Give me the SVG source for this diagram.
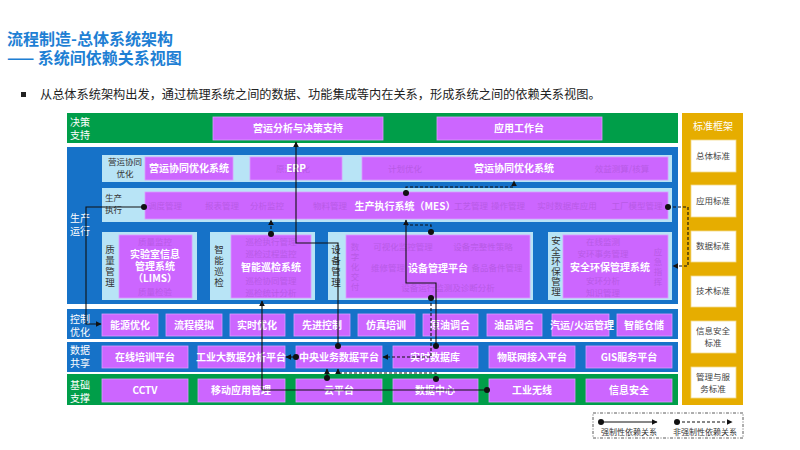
<svg xmlns="http://www.w3.org/2000/svg" width="800" height="450" viewBox="0 0 800 450">
<defs>
<style>
text{font-family:"Noto Sans CJK SC","Liberation Sans",sans-serif}
.title{fill:#1e7fd4;font-size:16px;font-weight:bold}
.lab{fill:#ffffff;font-size:10px}
.dk{fill:#333333;font-size:8.5px}
.vt{fill:#333333;font-size:9.5px;writing-mode:vertical-rl;text-orientation:upright}
.bx{fill:#cc66ff;stroke:#dd99ff;stroke-width:0.8}
.lb{fill:#b8e4f6}
.bt{fill:#ffffff;font-size:10px;font-weight:bold;text-anchor:middle}
.ft{fill:#b85ae6;font-size:8.5px;text-anchor:middle}
.fv{fill:#b85ae6;font-size:8.5px;writing-mode:vertical-rl;text-orientation:upright;letter-spacing:1.5px}
.sb{fill:#ffffff;stroke:#f3d98a;stroke-width:0.8}
.st{fill:#444444;font-size:8.5px;text-anchor:middle}
.s{fill:none;stroke:#111111;stroke-width:1.1}
.d{fill:none;stroke:#111111;stroke-width:1.1;stroke-dasharray:3,2}
</style>
<marker id="arr" viewBox="0 0 10 10" refX="9" refY="5" markerWidth="6" markerHeight="6" orient="auto" markerUnits="userSpaceOnUse"><path d="M0,0 L10,5 L0,10 z" fill="#111"/></marker>
<marker id="dot" viewBox="0 0 10 10" refX="5" refY="5" markerWidth="6" markerHeight="6" markerUnits="userSpaceOnUse"><circle cx="5" cy="5" r="5" fill="#111"/></marker>
</defs>
<rect width="800" height="450" fill="#ffffff"/>

<g id="title">
<text class="title" x="7" y="45">流程制造-总体系统架构</text>
<text class="title" x="7" y="64">—— 系统间依赖关系视图</text>
<rect x="21" y="92" width="5" height="5" fill="#222"/>
<text x="40" y="99" font-size="12.2" fill="#222">从总体系统架构出发，通过梳理系统之间的数据、功能集成等内在关系，形成系统之间的依赖关系视图。</text>
</g>

<!-- bands -->
<g id="band-decision">
<rect x="67" y="113" width="611" height="30" fill="#009e49"/>
<text class="lab" x="70" y="126">决策</text><text class="lab" x="70" y="139">支持</text>
</g>
<g id="band-production">
<rect x="67" y="147" width="611" height="157" fill="#1672c8"/>
<text class="lab" x="70" y="222">生产</text><text class="lab" x="70" y="235">运行</text>
</g>
<g id="band-control">
<rect x="67" y="309" width="611" height="30" fill="#1672c8"/>
<text class="lab" x="70" y="323">控制</text><text class="lab" x="70" y="336">优化</text>
</g>
<g id="band-data">
<rect x="67" y="342" width="611" height="30" fill="#1672c8"/>
<text class="lab" x="70" y="354">数据</text><text class="lab" x="70" y="367">共享</text>
</g>
<g id="band-base">
<rect x="67" y="374" width="611" height="31" fill="#009e49"/>
<text class="lab" x="70" y="389">基础</text><text class="lab" x="70" y="402">支撑</text>
</g>

<!-- decision -->
<g id="n-yyfx"><rect class="bx" x="213" y="117" width="170" height="23"/><text class="bt" x="298" y="132">营运分析与决策支持</text></g>
<g id="n-yygzt"><rect class="bx" x="437" y="117" width="165" height="23"/><text class="bt" x="519" y="132">应用工作台</text></g>

<!-- 营运协同 row -->
<g id="row-yyxt">
<rect class="lb" x="102" y="155" width="570" height="27"/>
<text class="dk" x="125" y="165" text-anchor="middle">营运协同</text>
<text class="dk" x="125" y="177" text-anchor="middle">优化</text>
</g>
<g id="n-yyxt1"><rect class="bx" x="145" y="157" width="88" height="23"/><text class="bt" x="189" y="172">营运协同优化系统</text></g>
<g id="n-erp"><rect class="bx" x="250" y="157" width="92" height="23"/><text class="ft" x="293" y="172">原油优化</text><text class="bt" x="296" y="172">ERP</text></g>
<g id="n-yyxt2"><rect class="bx" x="362" y="157" width="306" height="23"/>
<text class="ft" x="405" y="172">计划优化</text><text class="ft" x="622" y="172">效益测算/核算</text>
<text class="bt" x="514" y="172">营运协同优化系统</text></g>

<!-- 生产执行 row -->
<g id="row-sczx">
<rect class="lb" x="102" y="188" width="570" height="34"/>
<text class="dk" x="105" y="201">生产</text><text class="dk" x="105" y="213">执行</text>
</g>
<g id="n-mes"><rect class="bx" x="145" y="192" width="523" height="27"/>
<text class="ft" x="165" y="209">调度管理</text><text class="ft" x="222" y="209">报表管理</text><text class="ft" x="267" y="209">分析监控</text><text class="ft" x="330" y="209">物料管理</text>
<text class="ft" x="471" y="209">工艺管理</text><text class="ft" x="508" y="209">操作管理</text><text class="ft" x="567" y="209">实时数据库应用</text><text class="ft" x="637" y="209">工厂模型管理</text>
<text class="bt" x="405" y="210">生产执行系统（MES）</text></g>

<!-- bottom production row -->
<g id="n-lims">
<rect class="lb" x="102" y="232" width="95" height="68"/>
<text class="vt" x="110" y="245" letter-spacing="1.5">质量管理</text>
<rect class="bx" x="119" y="235" width="73" height="63"/>
<text class="ft" x="155" y="245">质量监控</text><text class="ft" x="155" y="295">质量检验</text>
<text class="bt" x="155" y="258">实验室信息</text><text class="bt" x="155" y="270">管理系统</text><text class="bt" x="155" y="282">（LIMS）</text>
</g>
<g id="n-znxj">
<rect class="lb" x="210" y="232" width="105" height="68"/>
<text class="vt" x="219" y="245" letter-spacing="1.5">智能巡检</text>
<rect class="bx" x="231" y="235" width="80" height="63"/>
<text class="ft" x="271" y="245">巡检执行管理</text><text class="ft" x="271" y="257">巡检过程监控</text><text class="ft" x="271" y="284">巡检协同管理</text><text class="ft" x="271" y="296">巡检统计分析</text>
<text class="bt" x="271" y="271">智能巡检系统</text>
</g>
<g id="n-sbgl">
<rect class="lb" x="328" y="232" width="205" height="68"/>
<text class="vt" x="336" y="245" letter-spacing="1.5">设备管理</text>
<rect class="bx" x="346" y="235" width="184" height="63"/>
<text class="fv" x="355" y="243">数字化交付</text>
<text class="ft" x="403" y="250">可视化监控管理</text><text class="ft" x="483" y="250">设备完整性策略</text>
<text class="ft" x="388" y="271">维修管理</text><text class="ft" x="497" y="271">备品备件管理</text>
<text class="ft" x="448" y="291">设备运行监测及诊断分析</text>
<text class="bt" x="438" y="272">设备管理平台</text>
</g>
<g id="n-aqhb">
<rect class="lb" x="548" y="232" width="124" height="68"/>
<text class="vt" x="556" y="236" letter-spacing="0.7">安全环保管理</text>
<rect class="bx" x="563" y="235" width="105" height="63"/>
<text class="ft" x="603" y="245">在线监测</text><text class="ft" x="603" y="257">安环事务管理</text><text class="ft" x="603" y="284">安环分析</text><text class="ft" x="603" y="296">知识管理</text>
<text class="fv" x="658" y="248">应急指挥</text>
<text class="bt" x="610" y="271">安全环保管理系统</text>
</g>

<!-- control row -->
<g id="n-nyyh"><rect class="bx" x="102" y="314" width="56" height="22"/><text class="bt" x="130" y="329">能源优化</text></g>
<g id="n-lcmn"><rect class="bx" x="166" y="314" width="56" height="22"/><text class="bt" x="194" y="329">流程模拟</text></g>
<g id="n-ssyh"><rect class="bx" x="230" y="314" width="55" height="22"/><text class="bt" x="257" y="329">实时优化</text></g>
<g id="n-xjkz"><rect class="bx" x="294" y="314" width="56" height="22"/><text class="bt" x="322" y="329">先进控制</text></g>
<g id="n-fzpx"><rect class="bx" x="358" y="314" width="57" height="22"/><text class="bt" x="386" y="329">仿真培训</text></g>
<g id="n-yytj"><rect class="bx" x="423" y="314" width="55" height="22"/><text class="bt" x="450" y="329">原油调合</text></g>
<g id="n-ypth"><rect class="bx" x="487" y="314" width="55" height="22"/><text class="bt" x="514" y="329">油品调合</text></g>
<g id="n-qyhy"><rect class="bx" x="552" y="314" width="57" height="22"/><text class="bt" x="582" y="329">汽运/火运管理</text></g>
<g id="n-zncc"><rect class="bx" x="617" y="314" width="55" height="22"/><text class="bt" x="644" y="329">智能仓储</text></g>

<!-- data row -->
<g id="n-zxpx"><rect class="bx" x="102" y="346" width="86" height="22"/><text class="bt" x="145" y="361">在线培训平台</text></g>
<g id="n-gydsj"><rect class="bx" x="198" y="346" width="87" height="22"/><text class="bt" x="241" y="361">工业大数据分析平台</text></g>
<g id="n-zyyw"><rect class="bx" x="296" y="346" width="86" height="22"/><text class="bt" x="339" y="361">中央业务数据平台</text></g>
<g id="n-sssjk"><rect class="bx" x="393" y="346" width="85" height="22"/><text class="bt" x="435" y="361">实时数据库</text></g>
<g id="n-wlw"><rect class="bx" x="489" y="346" width="86" height="22"/><text class="bt" x="532" y="361">物联网接入平台</text></g>
<g id="n-gis"><rect class="bx" x="586" y="346" width="86" height="22"/><text class="bt" x="629" y="361">GIS服务平台</text></g>

<!-- base row -->
<g id="n-cctv"><rect class="bx" x="102" y="379" width="86" height="23"/><text class="bt" x="145" y="394">CCTV</text></g>
<g id="n-ydyy"><rect class="bx" x="198" y="379" width="87" height="23"/><text class="bt" x="241" y="394">移动应用管理</text></g>
<g id="n-ypt"><rect class="bx" x="296" y="379" width="86" height="23"/><text class="bt" x="339" y="394">云平台</text></g>
<g id="n-sjzx"><rect class="bx" x="393" y="379" width="85" height="23"/><text class="bt" x="435" y="394">数据中心</text></g>
<g id="n-gywx"><rect class="bx" x="489" y="379" width="86" height="23"/><text class="bt" x="532" y="394">工业无线</text></g>
<g id="n-xxaq"><rect class="bx" x="586" y="379" width="86" height="23"/><text class="bt" x="629" y="394">信息安全</text></g>

<!-- standards panel -->
<g id="n-std">
<rect x="682" y="113" width="61" height="292" fill="#e6ad00"/>
<text x="713" y="130" font-size="10" fill="#ffffff" text-anchor="middle">标准框架</text>
</g>
<g id="n-std1"><rect class="sb" x="691" y="140" width="45" height="32"/><text class="st" x="713" y="159">总体标准</text></g>
<g id="n-std2"><rect class="sb" x="691" y="185" width="45" height="32"/><text class="st" x="713" y="204">应用标准</text></g>
<g id="n-std3"><rect class="sb" x="691" y="231" width="45" height="31"/><text class="st" x="713" y="249">数据标准</text></g>
<g id="n-std4"><rect class="sb" x="691" y="276" width="45" height="31"/><text class="st" x="713" y="294">技术标准</text></g>
<g id="n-std5"><rect class="sb" x="691" y="321" width="45" height="32"/><text class="st" x="713" y="334">信息安全</text><text class="st" x="713" y="346">标准</text></g>
<g id="n-std6"><rect class="sb" x="691" y="367" width="45" height="31"/><text class="st" x="713" y="380">管理与服</text><text class="st" x="713" y="392">务标准</text></g>

<!-- connectors -->
<g id="connectors">
<path class="s" d="M338,346 V243 H296 V142" marker-start="url(#dot)" marker-end="url(#arr)"/>
<path class="s" d="M436,346 V283 H406 V220" marker-start="url(#dot)" marker-end="url(#arr)"/>
<path class="s" d="M144,207 H86 V324 H101" marker-start="url(#dot)" marker-end="url(#arr)"/>
<path class="s" d="M487,390 H262 V301" marker-start="url(#dot)" marker-end="url(#arr)"/>
<path class="s" d="M296,357 H286" marker-start="url(#dot)" marker-end="url(#arr)"/>
<path class="s" d="M327,378 V369" marker-start="url(#dot)" marker-end="url(#arr)"/>
<path class="d" d="M406,193 V187 H514 V181" marker-start="url(#dot)" marker-end="url(#arr)"/>
<path class="d" d="M271,234 V220" marker-start="url(#dot)" marker-end="url(#arr)"/>
<path class="d" d="M431,232 V225 H407" marker-start="url(#dot)"/>
<path class="d" d="M431,298 V357 H383" marker-start="url(#dot)" marker-end="url(#arr)"/>
<path class="d" d="M436,379 V373 H338 V369" marker-start="url(#dot)" marker-end="url(#arr)"/>
<path class="d" d="M668,207 H688 V266 H673" marker-start="url(#dot)" marker-end="url(#arr)"/>
</g>

<!-- legend -->
<g id="legend">
<rect x="593" y="413" width="150" height="25" fill="none" stroke="#333" stroke-width="0.8" stroke-dasharray="3,1.5,1,1.5"/>
<path class="s" d="M601,422 H657" marker-start="url(#dot)" marker-end="url(#arr)"/>
<path class="d" d="M677,422 H732" marker-start="url(#dot)" marker-end="url(#arr)"/>
<text x="629" y="435" font-size="8" fill="#333" text-anchor="middle">强制性依赖关系</text>
<text x="705" y="435" font-size="8" fill="#333" text-anchor="middle">非强制性依赖关系</text>
</g>
</svg>
